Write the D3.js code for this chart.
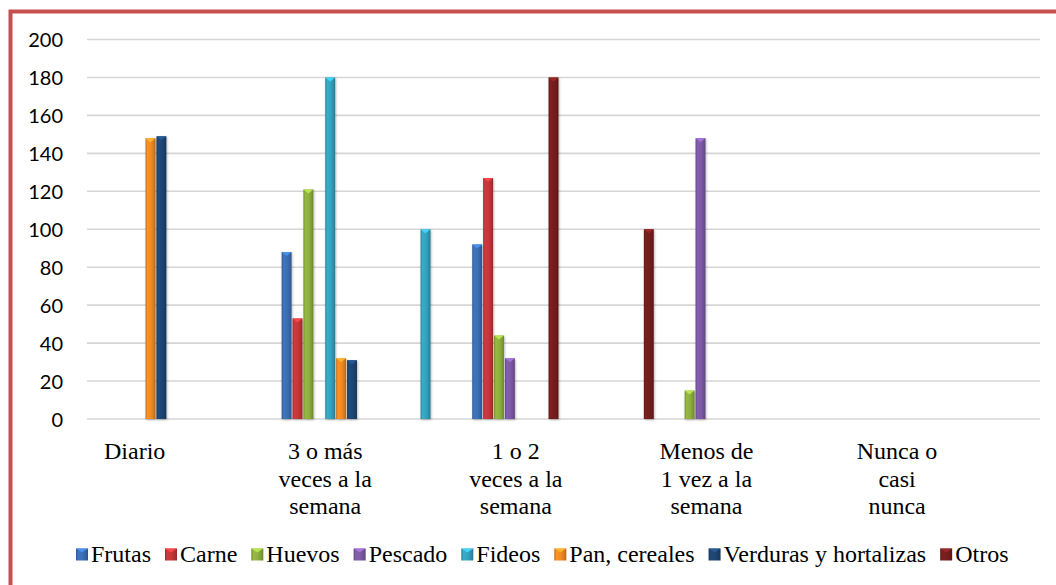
<!DOCTYPE html>
<html>
<head>
<meta charset="utf-8">
<script src="https://cdn.jsdelivr.net/npm/d3@7"></script>
<style>
  html, body { margin: 0; padding: 0; background: #ffffff; }
  svg { display: block; }
</style>
</head>
<body>
<svg id="chart" width="1056" height="585"></svg>
<script>
// ---- Data ----
const categories = ["Diario", "", "3 o más veces a la semana", "", "1 o 2 veces a la semana", "",
                    "Menos de 1 vez a la semana", "", "Nunca o casi nunca", ""];
const seriesNames = ["Frutas", "Carne", "Huevos", "Pescado", "Fideos", "Pan, cereales", "Verduras y hortalizas", "Otros"];
const frutas    = [null, null, 88,  null, 92,  null, null, null, null, null];
const carne     = [null, null, 53,  null, 127, null, null, null, null, null];
const huevos    = [null, null, 121, null, 44,  null, 15,   null, null, null];
const pescado   = [null, null, null, null, 32, null, 148,  null, null, null];
const fideos    = [null, null, 180, 100, null, null, null, null, null, null];
const pan       = [148,  null, 32,  null, null, null, null, null, null, null];
const verduras  = [149,  null, 31,  null, null, null, null, null, null, null];
const otros     = [null, null, null, null, 180, 100, null, null, null, null];
const yTicks = [0, 20, 40, 60, 80, 100, 120, 140, 160, 180, 200];
const seriesColors = ["#3b6fb6", "#c4373a", "#8eb03e", "#7d5aa6", "#35a3c0", "#f18a22", "#1f4573", "#761e1e"];

const seriesValues = [frutas, carne, huevos, pescado, fideos, pan, verduras, otros];

const SERIF = '"Liberation Serif"';
const SANS = '"Lato"';

// ---- Layout ----
const svg = d3.select("#chart");
const plotLeft = 87, plotRight = 1040, plotTop = 39.5, plotBottom = 419;

const x0 = d3.scaleBand().domain(d3.range(categories.length)).range([plotLeft, plotRight]).padding(0);
const x1 = d3.scaleBand().domain(d3.range(seriesNames.length)).range([0, x0.bandwidth()]).paddingOuter(0.37).paddingInner(0);
const y = d3.scaleLinear().domain([0, 200]).range([plotBottom, plotTop]);

// ---- defs: gradients and shadow ----
const defs = svg.append("defs");
seriesColors.forEach((c, i) => {
  const base = d3.color(c);
  const g = defs.append("linearGradient").attr("id", "g" + i)
    .attr("x1", "0%").attr("x2", "100%").attr("y1", "0%").attr("y2", "0%");
  g.append("stop").attr("offset", "0%").attr("stop-color", base.darker(0.7));
  g.append("stop").attr("offset", "18%").attr("stop-color", base.brighter(0.15));
  g.append("stop").attr("offset", "55%").attr("stop-color", base);
  g.append("stop").attr("offset", "85%").attr("stop-color", base.darker(0.4));
  g.append("stop").attr("offset", "100%").attr("stop-color", base.darker(0.9));
});
const flt = defs.append("filter").attr("id", "shadow").attr("x", "-50%").attr("y", "-10%").attr("width", "200%").attr("height", "120%");
flt.append("feDropShadow").attr("dx", 0.8).attr("dy", 1).attr("stdDeviation", 1.2)
  .attr("flood-color", "#000").attr("flood-opacity", 0.3);

// ---- border ----
svg.append("rect").attr("x", 10.5).attr("y", 11.5).attr("width", 1100).attr("height", 700)
  .attr("fill", "none").attr("stroke", "#c5504e").attr("stroke-width", 4);

// ---- gridlines ----
svg.append("g").selectAll("line").data(yTicks).join("line")
  .attr("x1", plotLeft).attr("x2", plotRight)
  .attr("y1", d => y(d)).attr("y2", d => y(d))
  .attr("stroke", "#d6d6d6").attr("stroke-width", 1.6);

// ---- y axis labels ----
const yAxis = d3.axisLeft(y).tickValues(yTicks).tickSize(0).tickPadding(0).tickFormat(d3.format("d"));
const yg = svg.append("g").attr("transform", `translate(${plotLeft - 24},0)`).call(yAxis)
  .attr("font-family", null).attr("font-size", null);
yg.select(".domain").remove();
yg.selectAll("text")
  .style("font-family", SANS).style("font-size", "20px").attr("fill", "#000").attr("dy", "0.36em");

// ---- category labels ----
const catG = svg.append("g");
const lineH = 27.6;
categories.forEach((label, i) => {
  if (!label) return;
  const cx = x0(i) + x0.bandwidth() / 2;
  const t = catG.append("text").attr("x", cx).attr("y", 459)
    .attr("text-anchor", "middle")
    .style("font-family", SERIF).style("font-size", "24px").attr("fill", "#000");
  const words = label.split(" ");
  const maxW = x0.step() + 1;
  let line = [];
  let ts = t.append("tspan").attr("x", cx).attr("dy", 0);
  words.forEach(w => {
    line.push(w);
    ts.text(line.join(" "));
    if (ts.node().getComputedTextLength() > maxW && line.length > 1) {
      line.pop();
      ts.text(line.join(" "));
      line = [w];
      ts = t.append("tspan").attr("x", cx).attr("dy", lineH).text(w);
    }
  });
});

// ---- bars ----
const flat = [];
seriesValues.forEach((arr, s) => arr.forEach((v, c) => { if (v != null) flat.push({ s, c, v }); }));
const barW = x1.bandwidth() - 1;
const bars = svg.append("g").selectAll("g").data(flat).join("g")
  .attr("transform", d => `translate(${x0(d.c) + x1(d.s)},0)`);
bars.append("rect")
  .attr("x", 0).attr("width", barW)
  .attr("y", d => y(d.v)).attr("height", d => y(0) - y(d.v))
  .attr("fill", d => `url(#g${d.s})`).attr("filter", "url(#shadow)");
bars.append("path")
  .attr("d", d => {
    const t = y(d.v);
    return `M0,${t} L${barW},${t} L${barW / 2},${t + 4} Z`;
  })
  .attr("fill", d => d3.color(seriesColors[d.s]).brighter(0.8))
  .attr("opacity", 0.9);

// ---- legend ----
const legend = svg.append("g");
let lx = 76;
const sq = 12;
seriesNames.forEach((name, i) => {
  legend.append("rect").attr("x", lx).attr("y", 548.5).attr("width", sq).attr("height", sq)
    .attr("fill", `url(#g${i})`);
  legend.append("path")
    .attr("d", `M${lx},548.5 L${lx + sq},548.5 L${lx + sq / 2},${548.5 + 4} Z`)
    .attr("fill", d3.color(seriesColors[i]).brighter(0.8)).attr("opacity", 0.9);
  const t = legend.append("text").attr("x", lx + sq + 3).attr("y", 561.5)
    .style("font-family", SERIF).style("font-size", "24px").attr("fill", "#000").text(name);
  lx += sq + 3 + t.node().getComputedTextLength() + 14;
});
</script>
</body>
</html>
